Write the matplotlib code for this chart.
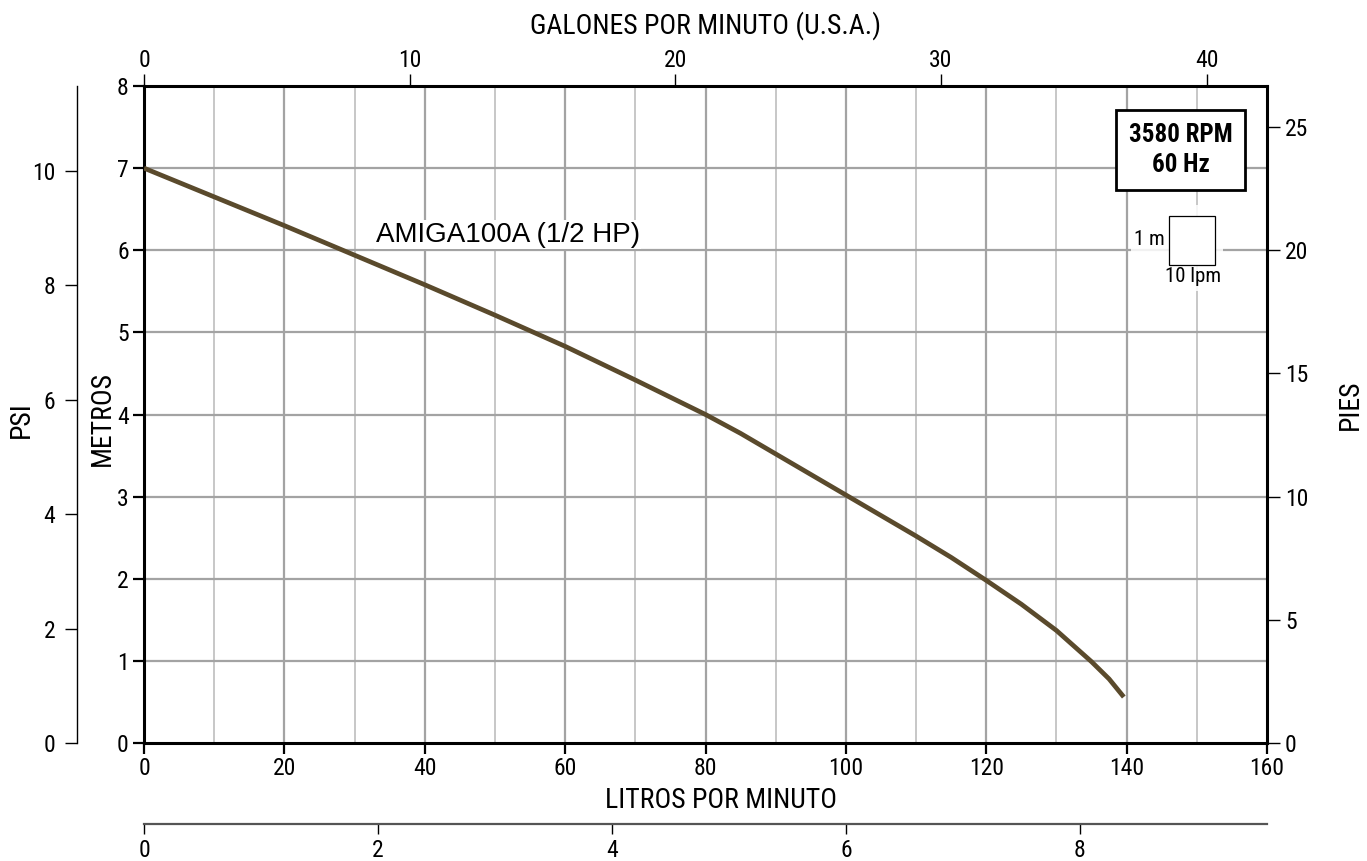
import matplotlib.pyplot as plt
from matplotlib.patches import Rectangle

# narrow face for the axes texts, plain Arial-like face for the curve name
NARROW = ['Roboto Condensed', 'PT Sans Narrow', 'Archivo Narrow', 'Liberation Sans', 'DejaVu Sans']
PLAIN = ['Liberation Sans', 'DejaVu Sans']
plt.rcParams['font.family'] = NARROW

# pump curve: flow in litres/min, head in metres
flow_lpm = [0, 10, 20, 30, 40, 50, 60, 70, 80, 85, 90, 95, 100, 105, 110, 115, 120,
            125, 130, 135, 137.5, 139.6]
head_m = [7.0, 6.65, 6.30, 5.94, 5.58, 5.21, 4.83, 4.42, 4.00, 3.77, 3.52, 3.27, 3.02,
          2.77, 2.52, 2.26, 1.98, 1.69, 1.37, 0.99, 0.78, 0.56]
model_label = 'AMIGA100A (1/2 HP)'
speed_label = '3580 RPM\n60 Hz'

lpm_ticks = [0, 20, 40, 60, 80, 100, 120, 140, 160]
m_ticks = [0, 1, 2, 3, 4, 5, 6, 7, 8]
psi_ticks = [0, 2, 4, 6, 8, 10]
ft_ticks = [0, 5, 10, 15, 20, 25]
gpm_ticks = [0, 10, 20, 30, 40]
m3h_ticks = [0, 2, 4, 6, 8]

# unit conversions as used by the chart
M_PER_PSI = 0.697
M_PER_FT = 0.30
LPM_PER_GPM = 3.785
LPM_PER_M3H = 1000 / 60

W, H = 1367, 861
fig = plt.figure(figsize=(W / 100, H / 100), dpi=100)
ax = fig.add_axes([144 / W, 1 - 743 / H, (1267 - 144) / W, (743 - 86) / H])

XMAX, YMAX = 160, 8
ax.set_xlim(0, XMAX)
ax.set_ylim(0, YMAX)

# grid
for x in range(10, 160, 10):
    if x % 20 == 0:
        ax.axvline(x, color='#a3a3a3', lw=1.6, zorder=1)
    else:
        ax.axvline(x, color='#b8b8b8', lw=1.1, zorder=1)
for y in range(1, 8):
    ax.axhline(y, color='#a3a3a3', lw=1.6, zorder=1)

ax.plot(flow_lpm, head_m, color='#5a4a2c', lw=3.4, solid_capstyle='butt',
        solid_joinstyle='round', zorder=4)

ax.text(33, 6.19, model_label, family=PLAIN, fontsize=20,
        va='center', ha='left', zorder=5,
        bbox=dict(facecolor='white', edgecolor='none', pad=1))

ax.text(147.7, 7.22, speed_label, fontsize=18, fontweight='bold', ha='center', va='center',
        linespacing=1.35, zorder=6,
        bbox=dict(facecolor='white', edgecolor='black', lw=2, boxstyle='square,pad=0.5'))

# little scale square (1 m x 10 lpm)
ax.add_patch(Rectangle((140.6, 5.5), 13.2, 1.05, facecolor='white', edgecolor='none',
                       alpha=0.85, zorder=2))
ax.add_patch(Rectangle((146.1, 5.82), 6.5, 0.6, facecolor='white', edgecolor='black',
                       lw=0.9, zorder=5))
ax.text(145.5, 6.13, '1 m', fontsize=15, ha='right', va='center', zorder=5)
ax.text(149.4, 5.80, '10 lpm', fontsize=15, ha='center', va='top', zorder=5)

for s in ax.spines.values():
    s.set_linewidth(2.2)
ax.set_xticks(lpm_ticks)
ax.set_yticks(m_ticks)
ax.tick_params(axis='both', labelsize=17, length=8, width=1.6, pad=3)
ax.tick_params(axis='x', pad=2)

# right: feet
axr = ax.twinx()
axr.set_ylim(0, YMAX / M_PER_FT)
axr.set_yticks(ft_ticks)
axr.tick_params(axis='y', labelsize=17, length=9, width=1.0, pad=4)
for s in axr.spines.values():
    s.set_visible(False)

# left outer: psi
axp = ax.twinx()
axp.set_ylim(0, YMAX / M_PER_PSI)
axp.yaxis.set_ticks_position('left')
axp.spines['left'].set_position(('outward', 48))
axp.spines['left'].set_linewidth(1.0)
for k in ['right', 'top', 'bottom']:
    axp.spines[k].set_visible(False)
axp.set_yticks(psi_ticks)
axp.tick_params(axis='y', labelsize=17, length=9, width=1.0, pad=7)

# top: US gallons per minute
axt = ax.twiny()
axt.set_xlim(0, XMAX / LPM_PER_GPM)
axt.set_xticks(gpm_ticks)
axt.tick_params(axis='x', labelsize=17, length=9, width=1.0, pad=1)
for s in axt.spines.values():
    s.set_visible(False)

# bottom outer: cubic metres per hour
axb = ax.twiny()
axb.set_xlim(0, XMAX / LPM_PER_M3H)
axb.xaxis.set_ticks_position('bottom')
axb.spines['bottom'].set_position(('outward', 58))
axb.spines['bottom'].set_color('#555555')
axb.spines['bottom'].set_linewidth(1.6)
for k in ['left', 'right', 'top']:
    axb.spines[k].set_visible(False)
axb.set_xticks(m3h_ticks)
axb.tick_params(axis='x', labelsize=17, length=7, width=1.0, pad=4)

# axis titles
fig.text(706 / W, 1 - 26 / H, 'GALONES POR MINUTO (U.S.A.)', fontsize=20, ha='center', va='center')
fig.text(721 / W, 1 - 800 / H, 'LITROS POR MINUTO', fontsize=20, ha='center', va='center')
fig.text(21 / W, 1 - 420 / H, 'PSI', fontsize=20, rotation=90, ha='center', va='center')
fig.text(102 / W, 1 - 418 / H, 'METROS', fontsize=20, rotation=90, ha='center', va='center')
fig.text(1350 / W, 1 - 405 / H, 'PIES', fontsize=20, rotation=90, ha='center', va='center')

fig.savefig('out.png', dpi=100)
